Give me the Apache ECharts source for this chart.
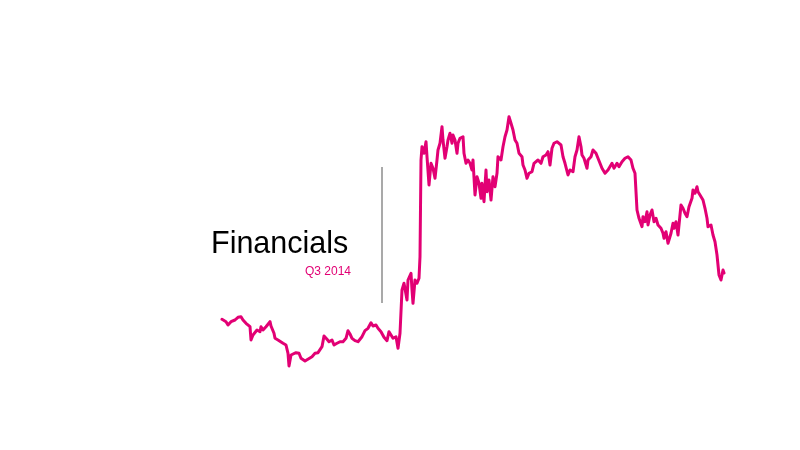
<!DOCTYPE html>
<html>
<head>
<meta charset="utf-8">
<script src="https://cdn.jsdelivr.net/npm/echarts@6/dist/echarts.min.js"></script>
<style>html,body{margin:0;padding:0;background:#fff;}#c{width:800px;height:450px;}</style>
</head>
<body>
<div id="c"></div>
<script>
var titleText = 'Financials';
var subtitleText = 'Q3 2014';
var days = [0,2,4,6,9,13,16,19,21,24,28,29,31,33,35,38,39,41,44,48,49,52,53,56,58,61,64,66,67,69,71,74,77,79,83,85,90,93,96,100,102,105,107,110,112,115,118,121,124,126,128,130,133,136,138,140,143,146,149,151,154,156,159,162,165,167,169,171,174,176,178,180,182,185,186,189,190,191,193,195,197,198,199,200,202,204,205,207,209,211,213,215,216,218,220,221,223,225,226,228,230,231,233,235,236,238,241,242,244,246,248,250,251,253,255,257,259,260,262,264,265,267,269,271,273,275,276,279,281,283,285,287,289,291,293,295,297,300,301,303,305,307,310,312,314,316,319,321,324,326,328,330,332,335,336,339,341,343,346,348,351,353,355,357,359,360,362,365,366,369,371,374,376,378,380,383,386,388,390,392,395,397,400,403,406,409,411,413,415,417,420,421,423,425,426,428,430,432,434,436,439,441,442,444,446,449,451,452,454,456,459,461,463,465,467,470,471,473,475,476,478,481,483,485,486,489,491,493,495,497,499,501,502];
var prices = [8.07,8.00,7.83,7.50,7.83,8.00,8.27,8.33,8.00,7.67,7.33,6.00,6.50,6.67,7.00,6.83,7.33,7.00,7.33,7.83,7.40,6.67,6.17,6.00,5.83,5.67,5.50,4.67,3.40,4.50,4.33,4.73,4.67,4.17,3.90,3.83,4.33,4.67,4.73,5.33,6.40,6.07,5.83,6.00,5.50,5.67,5.83,5.83,6.17,6.93,6.60,6.17,5.93,5.83,5.67,6.33,6.93,7.17,7.73,7.40,7.50,7.17,6.83,6.27,5.93,6.83,6.50,6.17,6.33,5.17,6.67,11.00,11.67,10.00,12.00,12.67,11.00,9.67,12.00,11.67,12.17,14.33,24.00,25.33,24.67,25.83,24.33,21.50,23.67,23.17,22.17,24.00,25.00,25.67,27.33,26.00,24.17,25.33,26.00,26.67,25.67,26.50,26.00,24.67,25.67,26.17,26.33,24.67,23.67,24.00,23.67,23.00,24.00,20.50,22.33,21.67,20.17,21.67,19.83,23.00,20.83,22.00,20.00,22.33,21.33,22.67,24.33,24.00,25.33,26.33,27.00,28.33,27.67,27.00,26.00,25.67,24.67,24.33,23.50,23.00,22.17,22.67,22.83,23.67,23.50,24.00,23.67,24.33,24.50,24.83,23.50,25.17,25.67,25.83,26.00,25.50,24.33,23.67,22.50,23.00,22.83,24.33,25.00,26.33,25.33,24.50,24.17,23.17,24.00,24.33,25.00,24.67,24.50,23.67,23.17,22.67,23.00,22.83,23.67,23.17,23.67,23.33,23.83,24.17,24.33,24.00,23.17,22.67,19.00,18.17,17.33,18.33,17.83,18.83,17.50,18.50,19.00,17.83,18.17,17.50,17.17,16.67,16.17,16.83,15.67,16.67,17.67,17.17,17.83,16.50,19.50,19.17,18.67,18.33,19.33,20.17,21.00,20.67,21.33,20.83,20.50,20.00,19.17,18.17,17.33,17.50,16.50,15.83,14.50,12.50,12.00,13.00,12.70];

var seriesData = days.map(function (d, i) { return [d, prices[i]]; });

var chart = echarts.init(document.getElementById('c'), null, { renderer: 'canvas' });
chart.setOption({
  backgroundColor: '#ffffff',
  animation: false,
  grid: { left: 222, right: 76, top: 100, bottom: 70 },
  xAxis: { type: 'value', min: 0, max: 502, show: false },
  yAxis: { type: 'value', min: 2, max: 30, show: false },
  series: [{
    type: 'line',
    data: seriesData,
    showSymbol: false,
    smooth: false,
    lineStyle: { color: '#E20074', width: 3, join: 'round', cap: 'round' },
    itemStyle: { color: '#E20074' }
  }],
  graphic: [
    {
      type: 'text',
      left: 211, top: 229,
      style: { text: titleText, fill: '#000000', font: '30.5px "Liberation Sans", Arial, sans-serif' }
    },
    {
      type: 'text',
      right: 449, top: 266,
      style: { text: subtitleText, fill: '#E20074', font: '12px "Liberation Sans", Arial, sans-serif' }
    },
    {
      type: 'line',
      shape: { x1: 382, y1: 167, x2: 382, y2: 303 },
      style: { stroke: '#8c8c8c', lineWidth: 1.5 }
    }
  ]
});
</script>
</body>
</html>
